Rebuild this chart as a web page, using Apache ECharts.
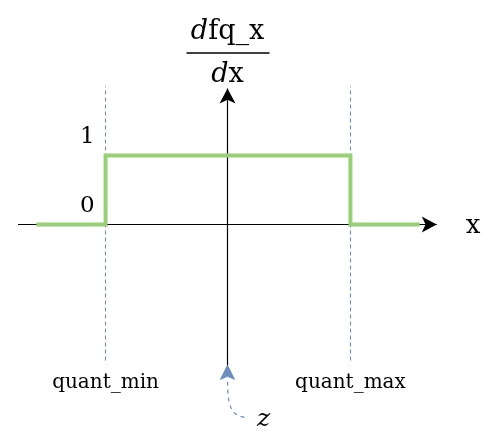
<!DOCTYPE html>
<html><head><meta charset="utf-8">
<script src="https://cdn.jsdelivr.net/npm/echarts@6/dist/echarts.min.js"></script>
<style>html,body{margin:0;padding:0;background:#fff}#c{width:497px;height:443px}</style>
</head><body><div id="c"></div>
<script>
// ---- data ----
const xRange = [-1.72, 1.71];
const yRange = [-2.05, 2.0];
const quantMin = -1.005;
const quantMax = 0.995;
const stepX = [-1.57, quantMin, quantMin, quantMax, quantMax, 1.56];
const stepY = [0, 0, 1, 1, 0, 0];
const yTickValues = [0, 1];
const yTickLabels = ['0', '1'];
const boundLabels = ['quant_min', 'quant_max'];
const xAxisName = 'x';
const zLabel = 'z';

const SERIF = '"DejaVu Serif","Liberation Serif",serif';
const BLUE = '#6c8ebf';
const GREEN = '#97d077';

const chart = echarts.init(document.getElementById('c'), null, {renderer: 'canvas'});
const option = {
  animation: false,
  backgroundColor: '#fff',
  grid: {left: 18, top: 86.5, width: 420, height: 279.5, containLabel: false},
  xAxis: {type: 'value', min: xRange[0], max: xRange[1], show: false},
  yAxis: {type: 'value', min: yRange[0], max: yRange[1], show: false},
  series: [
    {
      type: 'line', name: 'axes', data: [], silent: true,
      markLine: {
        silent: true, animation: false,
        symbol: ['none', 'arrow'], symbolSize: [12, 15],
        label: {show: false},
        lineStyle: {color: '#000', width: 1.2, type: 'solid'},
        data: [
          [{coord: [xRange[0], 0]}, {coord: [1.70, 0]}],
          [{coord: [-0.009, -2.04]}, {coord: [-0.009, 1.97]}]
        ]
      }
    },
    {
      type: 'line', name: 'bounds', data: [], silent: true,
      markLine: {
        silent: true, animation: false,
        symbol: ['none', 'none'],
        label: {show: false},
        lineStyle: {color: BLUE, width: 1.1, type: [4, 3]},
        data: [
          [{coord: [quantMin, -1.97]}, {coord: [quantMin, 2.0]}],
          [{coord: [quantMax, -1.97]}, {coord: [quantMax, 2.0]}]
        ]
      }
    },
    {
      type: 'line', name: 'dfq', z: 5,
      data: stepX.map((x, i) => [x, stepY[i]]),
      showSymbol: false, symbol: 'none',
      lineStyle: {color: GREEN, width: 4, join: 'miter'}
    }
  ]
};
chart.setOption(option);

const px = (x, y) => chart.convertToPixel({gridIndex: 0}, [x, y]);
const graphics = [];
yTickValues.forEach((v, i) => {
  const p = px(quantMin, v);
  graphics.push({type: 'text', x: p[0] - 11, y: p[1] - 18,
    style: {text: yTickLabels[i], font: '23px ' + SERIF, fill: '#000', align: 'right', verticalAlign: 'middle'}});
});
[quantMin, quantMax].forEach((v, i) => {
  const p = px(v, yRange[0]);
  graphics.push({type: 'text', x: p[0], y: p[1] + 17,
    style: {text: boundLabels[i], font: '20px ' + SERIF, fill: '#000', align: 'center', verticalAlign: 'middle'}});
});
const xEnd = px(xRange[1], 0);
graphics.push({type: 'text', x: xEnd[0] + 35, y: xEnd[1] + 2,
  style: {text: xAxisName, font: '26px ' + SERIF, fill: '#000', align: 'center', verticalAlign: 'middle'}});
// fraction label d fq_x / d x
const o = px(-0.009, 0);
graphics.push({type: 'text', x: o[0], y: 32,
  style: {text: '{i|d}fq_x', rich: {i: {fontStyle: 'italic', font: 'italic 27px ' + SERIF}}, font: '27px ' + SERIF, fill: '#000', align: 'center', verticalAlign: 'middle'}});
graphics.push({type: 'line', shape: {x1: o[0] - 41, y1: 53, x2: o[0] + 42, y2: 53}, style: {stroke: '#000', lineWidth: 1.3}});
graphics.push({type: 'text', x: o[0], y: 75,
  style: {text: '{i|d}x', rich: {i: {fontStyle: 'italic', font: 'italic 27px ' + SERIF}}, font: '27px ' + SERIF, fill: '#000', align: 'center', verticalAlign: 'middle'}});
// z annotation curved arrow
const b = px(-0.009, -2.04);
graphics.push({type: 'bezierCurve', shape: {x1: b[0] + 17, y1: b[1] + 52, cpx1: b[0] + 3, cpy1: b[1] + 50, cpx2: b[0], cpy2: b[1] + 40, x2: b[0], y2: b[1] + 13},
  style: {stroke: BLUE, lineWidth: 1.2, lineDash: [4, 4], fill: null}});
graphics.push({type: 'polygon', shape: {points: [[b[0], b[1]], [b[0] - 7, b[1] + 14], [b[0], b[1] + 11], [b[0] + 7, b[1] + 14]]},
  style: {fill: BLUE, stroke: BLUE, lineWidth: 1}});
graphics.push({type: 'text', x: b[0] + 36, y: b[1] + 54,
  style: {text: zLabel, font: 'italic 25px ' + SERIF, fill: '#000', align: 'center', verticalAlign: 'middle'}});
chart.setOption({graphic: {elements: graphics}});
</script></body></html>
